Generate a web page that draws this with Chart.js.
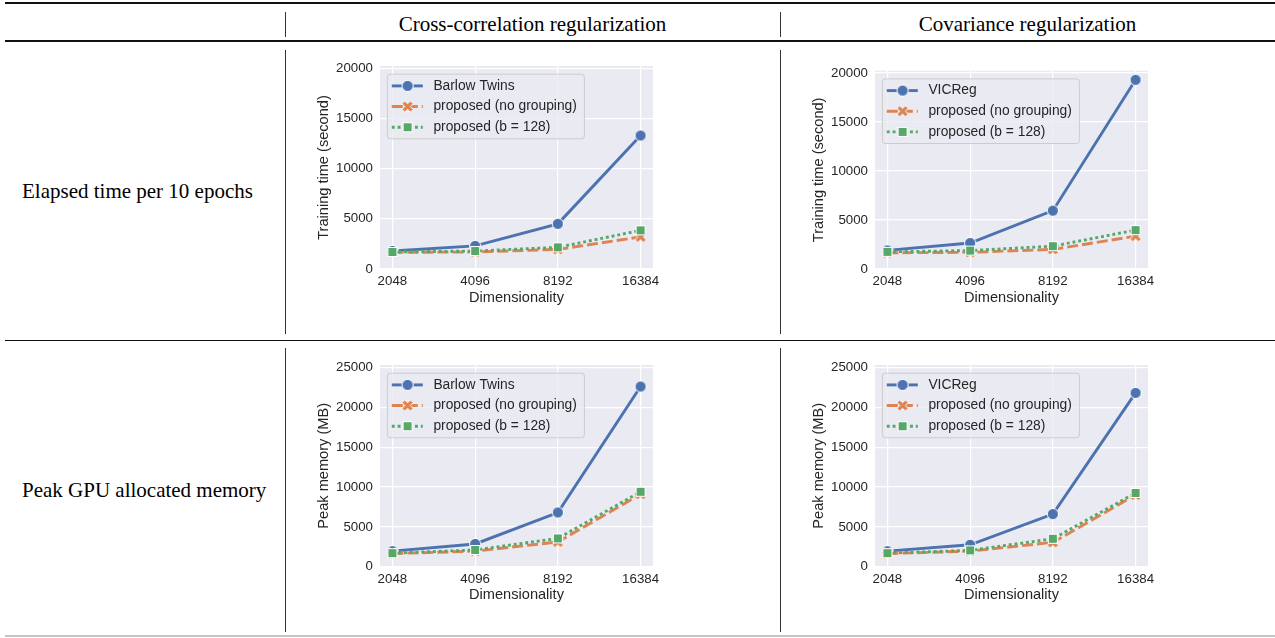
<!DOCTYPE html>
<html><head><meta charset="utf-8">
<script src="https://cdn.jsdelivr.net/npm/chart.js@4.4.1/dist/chart.umd.min.js"></script>
<style>
html,body{margin:0;padding:0;background:#fff;width:1275px;height:638px;overflow:hidden;position:relative}
.hl{position:absolute;left:5px;width:1270px;background:#111}
.vl{position:absolute;width:1px;background:#333}
.t{position:absolute;font-family:"Liberation Serif","Times New Roman",serif;font-size:21px;line-height:21px;color:#000;white-space:nowrap}
canvas{position:absolute}
</style></head><body>
<div class="hl" style="top:2px;height:1.6px"></div>
<div class="hl" style="top:40px;height:2px"></div>
<div class="hl" style="top:339.5px;height:1.8px"></div>
<div class="hl" style="top:635px;height:2px;background:#c4c4c4"></div>
<div class="vl" style="left:285px;top:12px;height:25px"></div>
<div class="vl" style="left:780px;top:12px;height:25px"></div>
<div class="vl" style="left:285px;top:50px;height:284px"></div>
<div class="vl" style="left:780px;top:50px;height:284px"></div>
<div class="vl" style="left:285px;top:348px;height:284px"></div>
<div class="vl" style="left:780px;top:348px;height:284px"></div>
<div class="t" style="left:285px;width:495px;text-align:center;top:13.5px">Cross-correlation regularization</div>
<div class="t" style="left:780px;width:495px;text-align:center;top:13.5px">Covariance regularization</div>
<div class="t" style="left:22px;top:180.5px">Elapsed time per 10 epochs</div>
<div class="t" style="left:22px;top:479.5px">Peak GPU allocated memory</div>
<canvas id="c1"></canvas>
<canvas id="c2"></canvas>
<canvas id="c3"></canvas>
<canvas id="c4"></canvas>
<script>
// ---- data ----
const dims = ['2048', '4096', '8192', '16384'];
const timeTicks = [0, 5000, 10000, 15000, 20000];
const memTicks = [0, 5000, 10000, 15000, 20000, 25000];

const timeBarlow      = [1800, 2300, 4500, 13300];
const timeBarlowNoGrp = [1650, 1700, 1950, 3200];
const timeBarlowGrp   = [1700, 1790, 2160, 3850];

const timeVICReg      = [1900, 2650, 5950, 19300];
const timeVICRegNoGrp = [1650, 1700, 2000, 3350];
const timeVICRegGrp   = [1750, 1880, 2330, 3970];

const memBarlow       = [1950, 2850, 6800, 22600];
const memBarlowNoGrp  = [1650, 1950, 3100, 9100];
const memBarlowGrp    = [1700, 2100, 3550, 9400];

const memVICReg       = [1950, 2750, 6600, 21800];
const memVICRegNoGrp  = [1650, 1950, 3050, 9000];
const memVICRegGrp    = [1700, 2050, 3500, 9250];

const labelsCross = ['Barlow Twins', 'proposed (no grouping)', 'proposed (b = 128)'];
const labelsCov   = ['VICReg', 'proposed (no grouping)', 'proposed (b = 128)'];

// ---- style ----
const BLUE = '#4C72B0', ORANGE = '#DD8452', GREEN = '#55A868', TXT = '#262626';
Chart.defaults.font.family = '"Liberation Sans", Arial, sans-serif';
Chart.defaults.color = TXT;

function mk(size) { const c = document.createElement('canvas'); c.width = c.height = size; return [c, c.getContext('2d')]; }
function circleMarker() {
  const [c, g] = mk(14);
  g.beginPath(); g.arc(7, 7, 5.6, 0, 2 * Math.PI);
  g.fillStyle = BLUE; g.fill(); g.lineWidth = 1; g.strokeStyle = '#fff'; g.stroke();
  return c;
}
function squareMarker() {
  const [c, g] = mk(12);
  g.fillStyle = GREEN; g.fillRect(1.5, 1.5, 9, 9);
  g.lineWidth = 1; g.strokeStyle = '#fff'; g.strokeRect(1.5, 1.5, 9, 9);
  return c;
}
function xMarker() {
  const [c, g] = mk(15);
  const a = 6.0, t = 2.0, cx = 7.5, cy = 7.5;
  const pts = [[-t,-a],[t,-a],[t,-t],[a,-t],[a,t],[t,t],[t,a],[-t,a],[-t,t],[-a,t],[-a,-t],[-t,-t]];
  const cs = Math.SQRT1_2;
  g.beginPath();
  pts.forEach(([x, y], i) => {
    const rx = cx + (x - y) * cs, ry = cy + (x + y) * cs;
    i ? g.lineTo(rx, ry) : g.moveTo(rx, ry);
  });
  g.closePath(); g.fillStyle = ORANGE; g.fill();
  g.lineWidth = 1; g.strokeStyle = '#fff'; g.lineJoin = 'miter'; g.stroke();
  return c;
}
const MK_CIRCLE = circleMarker(), MK_X = xMarker(), MK_SQ = squareMarker();

const bgPlugin = {
  id: 'axbg',
  beforeDraw(chart) {
    const a = chart.chartArea, ctx = chart.ctx;
    ctx.save(); ctx.fillStyle = '#EAEAF2';
    ctx.fillRect(a.left, a.top, a.right - a.left, a.bottom - a.top);
    ctx.restore();
  }
};
function rr(ctx, x, y, w, h, r) {
  ctx.beginPath();
  ctx.moveTo(x + r, y); ctx.arcTo(x + w, y, x + w, y + h, r); ctx.arcTo(x + w, y + h, x, y + h, r);
  ctx.arcTo(x, y + h, x, y, r); ctx.arcTo(x, y, x + w, y, r); ctx.closePath();
}
const legendPlugin = {
  id: 'boxLegend',
  afterDraw(chart) {
    const a = chart.chartArea, ctx = chart.ctx;
    const bx = a.left + 7.4, by = a.top + 8.2, bw = 197, bh = 64.6;
    ctx.save();
    rr(ctx, bx, by, bw, bh, 3);
    ctx.fillStyle = 'rgba(234,234,242,0.8)'; ctx.fill();
    ctx.lineWidth = 1; ctx.strokeStyle = '#cccccc'; ctx.stroke();
    chart.data.datasets.forEach((ds, i) => {
      const cy = by + 11.7 + i * 20.65;
      ctx.setLineDash(ds.borderDash || []);
      ctx.lineWidth = ds.borderWidth; ctx.strokeStyle = ds.borderColor; ctx.lineCap = 'butt';
      ctx.beginPath(); ctx.moveTo(bx + 4.4, cy); ctx.lineTo(bx + 35.4, cy); ctx.stroke();
      ctx.setLineDash([]);
      const img = ds.pointStyle;
      ctx.drawImage(img, bx + 20.2 - img.width / 2, cy - img.height / 2);
      ctx.fillStyle = TXT; ctx.font = '13.8px "Liberation Sans", Arial, sans-serif';
      ctx.textBaseline = 'middle'; ctx.textAlign = 'left';
      ctx.fillText(ds.label, bx + 46, cy);
    });
    ctx.restore();
  }
};

function pts(arr) { return arr.map((v, i) => ({ x: i, y: v })); }

function makePanel(id, geom, labels, series, yTicks, yMax, yTitle) {
  const cv = document.getElementById(id);
  cv.width = geom.w; cv.height = geom.h;
  cv.style.left = geom.x + 'px'; cv.style.top = geom.y + 'px';
  cv.style.width = geom.w + 'px'; cv.style.height = geom.h + 'px';
  const styles = [
    { borderColor: BLUE, borderDash: [], pointStyle: MK_CIRCLE, order: 2 },
    { borderColor: ORANGE, borderDash: [11, 4], pointStyle: MK_X, order: 1 },
    { borderColor: GREEN, borderDash: [2.9, 2.9], pointStyle: MK_SQ, order: 0 }
  ];
  const datasets = series.map((s, i) => Object.assign({
    label: labels[i], data: pts(s), borderWidth: 2.9, fill: false, tension: 0,
    pointRadius: 6, pointHoverRadius: 6, borderCapStyle: 'butt'
  }, styles[i]));
  new Chart(cv.getContext('2d'), {
    type: 'line',
    data: { datasets },
    options: {
      responsive: false, animation: false, devicePixelRatio: 1,
      layout: { padding: { left: geom.pl, top: geom.pt, right: geom.pr, bottom: 0 } },
      plugins: { legend: { display: false }, tooltip: { enabled: false } },
      scales: {
        x: {
          type: 'linear', min: -0.15, max: 3.15,
          afterBuildTicks: s => { s.ticks = dims.map((_, i) => ({ value: i })); },
          afterFit: s => { s.height = geom.xh; },
          ticks: { callback: v => dims[v], autoSkip: false, maxRotation: 0, padding: geom.xtp,
                   font: { size: 13.3 }, color: TXT },
          grid: { color: '#ffffff', lineWidth: 1.2, drawTicks: false },
          border: { display: false },
          title: { display: true, text: 'Dimensionality', font: { size: 14.6 }, color: TXT, padding: { top: 0, bottom: 4 } }
        },
        y: {
          min: 0, max: yMax,
          afterBuildTicks: s => { s.ticks = yTicks.map(v => ({ value: v })); },
          afterFit: s => { s.width = geom.yw; },
          ticks: { padding: 7, font: { size: 13.3 }, color: TXT, callback: v => String(v) },
          grid: { color: '#ffffff', lineWidth: 1.2, drawTicks: false },
          border: { display: false },
          title: { display: true, text: yTitle, font: { size: 14.6 }, color: TXT, padding: { top: 4, bottom: 0 } }
        }
      }
    },
    plugins: [bgPlugin, legendPlugin]
  });
}

makePanel('c1', { x: 300, y: 50, w: 370, h: 261, pl: 11.2, pt: 16, pr: 17, yw: 68.8, xh: 42, xtp: 4 },
  labelsCross, [timeBarlow, timeBarlowNoGrp, timeBarlowGrp], timeTicks, 20230, 'Training time (second)');
makePanel('c2', { x: 795, y: 50, w: 370, h: 261, pl: 11.2, pt: 20.7, pr: 17, yw: 68.8, xh: 42, xtp: 4 },
  labelsCov, [timeVICReg, timeVICRegNoGrp, timeVICRegGrp], timeTicks, 20230, 'Training time (second)');
makePanel('c3', { x: 300, y: 345, w: 370, h: 263, pl: 11.2, pt: 20, pr: 17, yw: 68.8, xh: 41.3, xtp: 4.6 },
  labelsCross, [memBarlow, memBarlowNoGrp, memBarlowGrp], memTicks, 25300, 'Peak memory (MB)');
makePanel('c4', { x: 795, y: 345, w: 370, h: 263, pl: 11.2, pt: 20, pr: 17, yw: 68.8, xh: 41.3, xtp: 4.6 },
  labelsCov, [memVICReg, memVICRegNoGrp, memVICRegGrp], memTicks, 25300, 'Peak memory (MB)');
</script>
</body></html>
